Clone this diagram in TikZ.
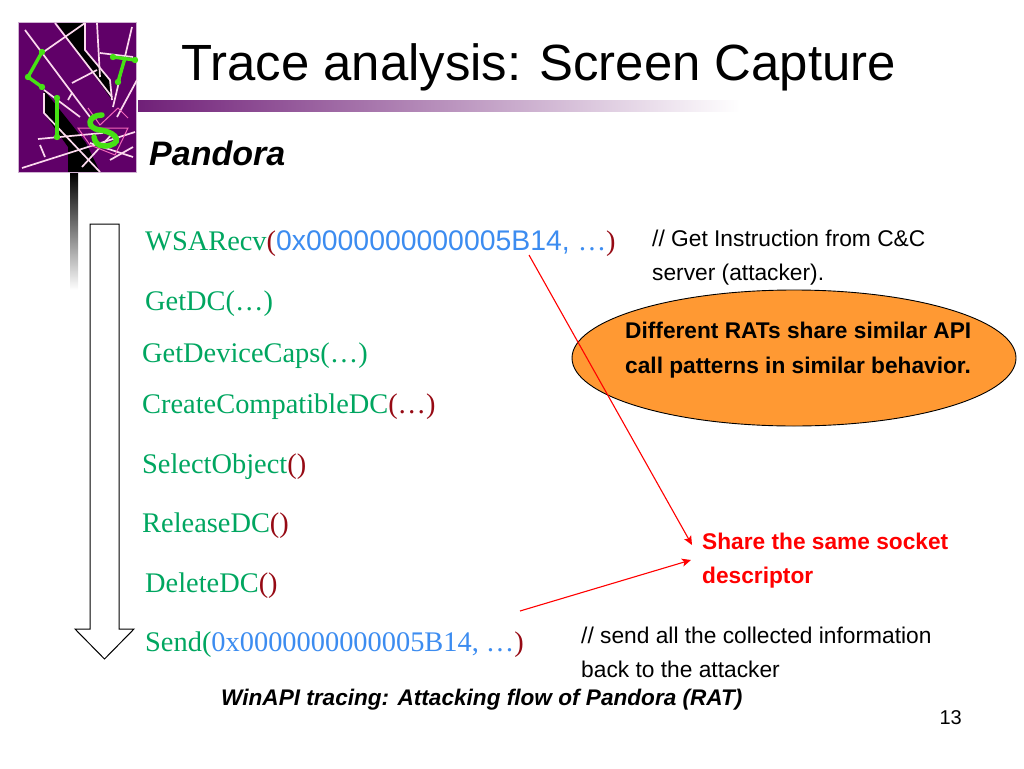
\documentclass[tikz,border=0pt]{standalone}
\usepackage{fontspec}
\setmainfont{Liberation Sans}
\newfontfamily\serifx{Liberation Serif}
\usetikzlibrary{arrows.meta}
\definecolor{api}{RGB}{0,166,96}
\definecolor{paren}{RGB}{150,10,20}
\definecolor{hex}{RGB}{60,140,240}
\definecolor{logop}{RGB}{96,0,104}
\definecolor{barp}{RGB}{112,32,120}
\definecolor{ora}{RGB}{255,153,51}
\definecolor{lgreen}{RGB}{70,225,20}
\tikzset{
 lab/.style={anchor=base west,inner sep=0pt,font=\fontsize{28.4}{30}\selectfont\serifx,text=api},
 note/.style={anchor=base west,inner sep=0pt,font=\fontsize{22.75}{26}\selectfont},
 bold/.style={anchor=base west,inner sep=0pt,font=\fontsize{22.7}{26}\selectfont\bfseries},
 link/.style={draw=red,line width=1.1pt,-{Stealth[length=9pt,width=8pt,inset=2pt]}},
 web/.style={draw=white!85!magenta,line width=1.7pt},
 webm/.style={draw=magenta!60!white,line width=1pt},
 gr/.style={draw=lgreen,line width=3.4pt,line cap=round,line join=round},
 grdot/.style={fill=lgreen}
}
\newcommand{\pa}[1]{\textcolor{paren}{#1}}
\newcommand{\hx}[1]{\textcolor{hex}{#1}}
\begin{document}
\begin{tikzpicture}[x=1pt,y=-1pt]
\useasboundingbox (0,0) rectangle (1024,768);
% decorative bars
\shade[left color=barp,right color=white] (138,100) rectangle (740,111);
\shade[top color=black,bottom color=white] (70,173) rectangle (78,290);
% logo
\fill[logop] (18,23) rectangle (136,172);
\fill[black] (57,23) -- (84,23) -- (84,50) -- (110,80) -- (112,100) -- cycle;
\fill[black] (44,90) -- (44,113) -- (68,147) -- (68,172) -- (100,172) -- (86,143) -- (72,125) -- cycle;
\draw[draw=white!70!logop,line width=1pt] (18,23) rectangle (136,172);
\draw[web] (25,30) -- (90,117);
\draw[web] (42,53) -- (85,23);
\draw[web] (55,23) -- (112,97);
\draw[web] (97,23) -- (100,77);
\draw[web] (132,27) -- (113,107);
\draw[web] (85,23) -- (85,50) -- (110,80) -- (112,100);
\draw[web] (137,80) -- (117,117);
\draw[web] (22,168) -- (135,132);
\draw[web] (38,139) -- (103,133);
\draw[web] (44,93) -- (44,113) -- (100,172);
\draw[web] (44,90) -- (80,117);
\draw[web] (72,83) -- (97,70);
\draw[web] (68,100) -- (72,93);
\draw[web] (82,167) -- (113,133);
\draw[web] (90,143) -- (133,157);
\draw[web] (110,160) -- (133,147);
\draw[web] (40,145) -- (45,157);
\draw[web] (100,53) -- (133,57);
\draw[webm] (78,128) -- (128,128) -- (115,155) -- (90,145) -- cycle;
\draw[webm] (88,108) -- (100,125) -- (118,108) -- (128,118);
\draw[gr] (42,52) -- (28,77) -- (42,87);
\draw[gr] (57,98) -- (57,137);
\draw[gr] (113,57) -- (135,60);
\draw[gr] (125,58) -- (118,82);
\foreach \p in {(42,52),(28,77),(42,87),(57,98),(57,137),(113,57),(135,60),(118,82)} \fill[grdot] \p circle (3.2pt);
\draw[draw=lgreen,line width=5.5pt,line cap=round] (102,115) .. controls (88,115) and (85,128) .. (100,130) .. controls (120,133) and (122,145) .. (105,146) .. controls (98,146) and (95,143) .. (94,137);
% arrow
\path[draw=black,line width=1pt,line join=miter] (90,224) -- (119,224) -- (119,629) -- (134,629) -- (104.5,659) -- (75,629) -- (90,629) -- cycle;
% title
\node[anchor=base west,inner sep=0pt,font=\fontsize{50.9}{52}\selectfont] (title) at (181,81) {Trace analysis:\hspace{-1pt} Screen Capture};
\node[anchor=base west,inner sep=0pt,font=\fontsize{34}{36}\selectfont\bfseries\itshape] (sub) at (149,165) {Pandora};
% code
\node[lab] (a) at (145,250) {WSARecv\pa{(}{\rmfamily\hx{0x0000000000005B14, }}\hx{…}\pa{)}};
\node[lab] (b) at (145,310) {GetDC(…)};
\node[lab] (c) at (142,362) {GetDeviceCaps(…)};
\node[lab] (d) at (142,413) {CreateCompatibleDC\pa{(…)}};
\node[lab] (e) at (142,473) {SelectObject\pa{()}};
\node[lab] (f) at (142,532) {ReleaseDC\pa{()}};
\node[lab] (g) at (145,592) {DeleteDC\pa{()}};
\node[lab] (h) at (145,651) {Send(\hx{0x0000000000005B14, …}\pa{)}};
% notes
\node[note] (n1) at (652,246) {// Get Instruction from C\&C};
\node[note] (n2) at (652,280) {server (attacker).};
\draw[black,fill=ora,line width=.9pt] (794,358) ellipse [x radius=222,y radius=68];
\node[bold] (e1) at (625,338) {Different RATs share similar API};
\node[bold] (e2) at (625,373) {call patterns in similar behavior.};
\node[bold,text=red] (s1) at (702,549) {Share the same socket};
\node[bold,text=red] (s2) at (702,583) {descriptor};
\node[note] (n3) at (581,643) {// send all the collected information};
\node[note] (n4) at (581,677) {back to the attacker};
\node[anchor=base west,inner sep=0pt,font=\fontsize{22.6}{26}\selectfont\bfseries\itshape] (cap) at (221,705) {WinAPI tracing: Attacking flow of Pandora (RAT)};
\node[anchor=base east,inner sep=0pt,font=\fontsize{20}{22}\selectfont] (num) at (962,724) {13};
\coordinate (t1) at (692,545);
\coordinate (t2) at (691,560);
\coordinate (s2a) at (529,255);
\coordinate (s2b) at (520,611);
\draw[link] (s2a) -- (t1);
\draw[link] (s2b) -- (t2);
\end{tikzpicture}
\end{document}
